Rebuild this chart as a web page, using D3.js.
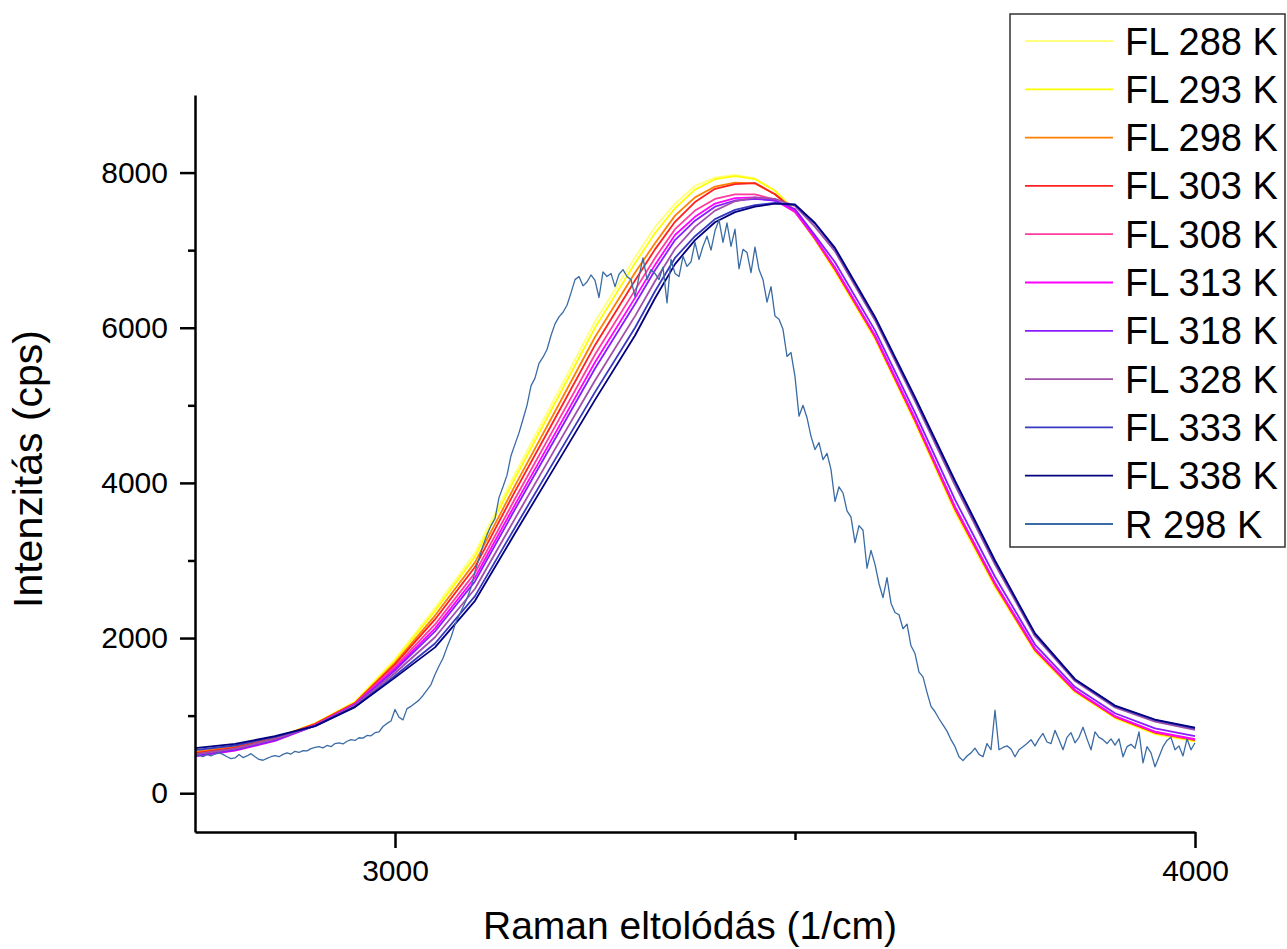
<!DOCTYPE html>
<html><head><meta charset="utf-8">
<script src="https://cdn.jsdelivr.net/npm/d3@7"></script>
<style>body{margin:0;background:#fff} svg{display:block}</style>
</head><body><svg id="c" width="1287" height="949"></svg>
<script>
// ---- data ----
const wavenumbers = [2750,2800,2850,2900,2950,3000,3050,3100,3150,3200,3250,3300,3325,3350,3375,3400,3425,3450,3475,3500,3525,3550,3600,3650,3700,3750,3800,3850,3900,3950,4000];
const fl288 = [520,590,710,900,1180,1730,2390,3100,4120,5100,6080,6910,7300,7600,7830,7935,7970,7925,7770,7520,7140,6720,5850,4770,3620,2650,1820,1300,965,760,665];
const fl293 = [528,595,712,898,1175,1710,2350,3050,4060,5030,6000,6830,7220,7540,7780,7915,7955,7915,7765,7500,7135,6732,5862,4783,3636,2664,1830,1307,972,768,672];
const fl298 = [532,598,712,895,1165,1680,2290,2975,3965,4920,5880,6710,7090,7445,7680,7820,7870,7860,7720,7500,7140,6750,5879,4804,3661,2685,1844,1317,982,779,683];
const fl303 = [515,585,705,890,1160,1660,2240,2915,3890,4830,5775,6610,7010,7365,7620,7790,7850,7865,7720,7510,7150,6757,5885,4810,3669,2692,1849,1320,985,783,687];
const fl308 = [495,565,690,880,1150,1630,2175,2840,3795,4725,5655,6485,6900,7270,7510,7660,7720,7720,7650,7490,7150,6767,5894,4820,3682,2703,1856,1326,990,789,692];
const fl313 = [475,548,675,870,1145,1605,2125,2780,3720,4635,5555,6385,6810,7195,7430,7600,7670,7680,7640,7500,7160,6776,5902,4830,3694,2713,1863,1331,995,794,697];
const fl318 = [482,555,680,872,1140,1585,2085,2730,3660,4565,5475,6305,6740,7130,7380,7560,7640,7660,7640,7530,7190,6844,5966,4904,3784,2790,1916,1368,1031,836,737];
const fl328 = [505,575,700,870,1130,1550,2010,2635,3540,4435,5320,6150,6600,7015,7300,7510,7630,7680,7660,7570,7300,6984,6097,5055,3969,2948,2024,1445,1105,922,818];
const fl333 = [555,615,725,865,1115,1515,1930,2540,3425,4300,5170,6000,6470,6900,7180,7400,7520,7580,7610,7580,7340,7015,6126,5088,4010,2983,2048,1462,1122,941,836];
const fl338 = [580,635,735,865,1110,1490,1880,2480,3350,4210,5070,5900,6380,6820,7130,7360,7490,7560,7600,7590,7350,7030,6140,5105,4030,3000,2060,1470,1130,950,845];

// Raman spectrum, sampled every 5 1/cm from 2750 to 4000
const ramanX = d3.range(2750, 4000.5, 5);
const raman298 = [
470,490,470,500,480,505,520,500,470,445,
455,500,460,480,510,470,435,425,450,470,
485,470,500,520,505,540,525,550,545,575,
590,600,585,615,600,640,650,635,670,690,
680,715,710,745,740,780,790,860,900,930,
1080,980,945,1090,1120,1160,1200,1260,1330,1400,
1530,1640,1740,1880,2010,2170,2290,2400,2510,2650,
2860,3020,3190,3330,3450,3540,3810,3950,4100,4350,
4500,4645,4820,5000,5250,5350,5540,5620,5720,5900,
6050,6140,6200,6290,6450,6620,6660,6540,6590,6680,
6610,6390,6720,6660,6700,6530,6690,6750,6660,6620,
6400,6660,6900,6620,6750,6700,6620,6780,6320,6880,
6700,6660,6920,6790,6850,7100,6880,7050,7180,7000,
7250,7390,7100,7350,7050,7270,6760,7010,6970,6710,
7040,6750,6620,6330,6530,6150,6110,5980,5630,5680,
5370,4860,5000,4840,4600,4430,4520,4300,4380,4170,
3760,3950,3870,3640,3560,3230,3450,3390,2900,3130,
2950,2700,2520,2780,2450,2330,2300,2120,2180,1900,
1800,1560,1500,1300,1120,1050,960,880,800,690,
600,470,420,480,520,580,500,470,640,560,
1070,560,590,610,570,470,560,600,640,690,
610,700,770,660,640,810,690,560,720,780,
650,720,850,700,560,790,720,690,640,700,
620,700,470,600,630,580,790,390,600,520,
340,470,600,680,720,560,610,480,700,560,
650];

const seriesNames = ["FL 288 K","FL 293 K","FL 298 K","FL 303 K","FL 308 K","FL 313 K","FL 318 K","FL 328 K","FL 333 K","FL 338 K","R 298 K"];
const seriesColors = ["#FFFF80","#FFFF00","#FF8000","#FF2020","#FF3C9E","#FF00FF","#8A1CFF","#A050A8","#3838C0","#000080","#3A6BA5"];
const yTickValues = [0,2000,4000,6000,8000];
const yMinorTicks = [1000,3000,5000,7000];
const xTickValues = [3000,4000];
const xMinorTicks = [3500];
const xTitle = "Raman eltolódás (1/cm)";
const yTitle = "Intenzitás (cps)";

// ---- drawing ----
const FONT = "Arial, 'Liberation Sans', sans-serif";
const svg = d3.select("#c");
const x = d3.scaleLinear().domain([2750, 4000]).range([195, 1195]);
const y = d3.scaleLinear().domain([-500, 9000]).range([832, 95]);
const line = d3.line().x(d => x(d[0])).y(d => y(d[1]));

const flSeries = [fl288, fl293, fl298, fl303, fl308, fl313, fl318, fl328, fl333, fl338];
const plot = svg.append("g");
flSeries.forEach((vals, i) => {
  plot.append("path")
    .datum(wavenumbers.map((w, j) => [w, vals[j]]))
    .attr("d", line)
    .attr("fill", "none")
    .attr("stroke", seriesColors[i])
    .attr("stroke-width", 1.8)
    .attr("stroke-linejoin", "round");
});
plot.append("path")
  .datum(ramanX.map((w, j) => [w, raman298[j]]))
  .attr("d", line)
  .attr("fill", "none")
  .attr("stroke", seriesColors[10])
  .attr("stroke-width", 1.3)
  .attr("stroke-linejoin", "round");

function styleAxis(g) {
  g.selectAll("path,line").attr("stroke", "#000").attr("stroke-width", 2.5);
  g.selectAll("text").attr("font-size", 30).attr("font-family", FONT).attr("fill", "#000");
}
const yAxis = svg.append("g").attr("transform", "translate(195,0)")
  .call(d3.axisLeft(y).tickValues(yTickValues).tickSize(15).tickSizeOuter(0).tickPadding(12).tickFormat(d3.format("d")));
styleAxis(yAxis);
const yMinor = svg.append("g").attr("transform", "translate(195,0)")
  .call(d3.axisLeft(y).tickValues(yMinorTicks).tickSize(7).tickSizeOuter(0).tickFormat(""));
yMinor.select(".domain").remove();
styleAxis(yMinor);

const xAxis = svg.append("g").attr("transform", "translate(0,832)")
  .call(d3.axisBottom(x).tickValues(xTickValues).tickSize(16).tickSizeOuter(0).tickPadding(12).tickFormat(d3.format("d")));
styleAxis(xAxis);
const xMinor = svg.append("g").attr("transform", "translate(0,832)")
  .call(d3.axisBottom(x).tickValues(xMinorTicks).tickSize(8).tickSizeOuter(0).tickFormat(""));
xMinor.select(".domain").remove();
styleAxis(xMinor);

svg.append("text")
  .attr("x", 690).attr("y", 939)
  .attr("text-anchor", "middle")
  .attr("font-family", FONT).attr("font-size", 39).attr("fill", "#000")
  .text(xTitle);
svg.append("text")
  .attr("transform", "translate(42,469) rotate(-90)")
  .attr("text-anchor", "middle")
  .attr("font-family", FONT).attr("font-size", 41).attr("fill", "#000")
  .text(yTitle);

// legend
const lg = svg.append("g");
lg.append("rect").attr("x", 1010).attr("y", 14).attr("width", 275).attr("height", 533)
  .attr("fill", "#fff").attr("stroke", "#333").attr("stroke-width", 1.5);
seriesNames.forEach((name, i) => {
  const cy = 41 + i * 48.3;
  lg.append("line").attr("x1", 1025).attr("x2", 1113).attr("y1", cy).attr("y2", cy)
    .attr("stroke", seriesColors[i]).attr("stroke-width", 1.8);
  lg.append("text").attr("x", 1125).attr("y", cy + 13.5)
    .attr("font-family", FONT).attr("font-size", 38).attr("fill", "#000")
    .text(name);
});
</script>
</body></html>
